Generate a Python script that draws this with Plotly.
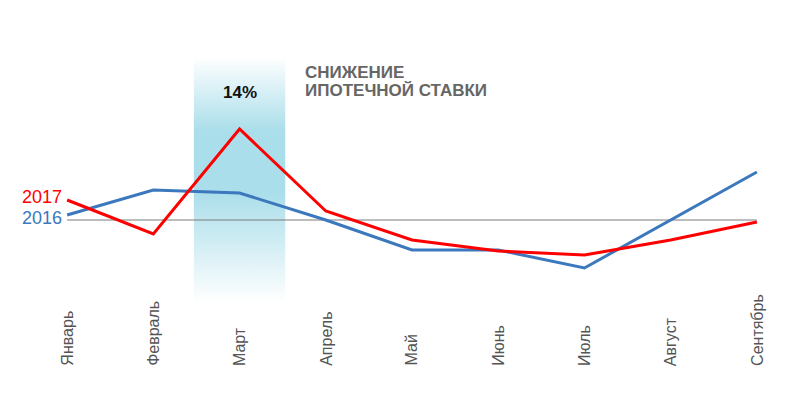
import plotly.graph_objects as go

months = ["Январь", "Февраль", "Март", "Апрель", "Май", "Июнь", "Июль", "Август", "Сентябрь"]
y2016 = [0.5, 3.0, 2.7, 0.0, -3.0, -3.0, -4.8, 0.0, 4.8]
y2017 = [2.0, -1.4, 9.1, 0.9, -2.0, -3.1, -3.5, -2.0, -0.2]
band_month = "Март"
band_label = "14%"
note_lines = ["СНИЖЕНИЕ", "ИПОТЕЧНОЙ СТАВКИ"]

FONT = "Liberation Sans, Arial, sans-serif"
BLUE = "#3b78bd"
RED = "#ff0000"

fig = go.Figure()

# shaded period around March (vertical gradient)
i = months.index(band_month)
bx0, bx1 = i - 0.53, i + 0.53
by0, by1 = -8.3, 16.3
fig.add_trace(go.Scatter(
    x=[bx0, bx1, bx1, bx0, bx0], y=[by0, by0, by1, by1, by0],
    mode="lines", line=dict(width=0), fill="toself",
    fillgradient=dict(type="vertical", start=by0, stop=by1,
                      colorscale=[[0, "rgba(255,255,255,1)"], [0.45, "#aadeea"],
                                  [0.7, "#aadeea"], [1, "rgba(255,255,255,1)"]]),
    hoverinfo="skip", showlegend=False))

# reference line
fig.add_trace(go.Scatter(x=[0, len(months) - 1], y=[0, 0], mode="lines",
                         line=dict(color="#7a7a7a", width=1),
                         hoverinfo="skip", showlegend=False))

xs = list(range(len(months)))
fig.add_trace(go.Scatter(x=xs, y=y2016, mode="lines", name="2016",
                         line=dict(color=BLUE, width=3), showlegend=False))
fig.add_trace(go.Scatter(x=xs, y=y2017, mode="lines", name="2017",
                         line=dict(color=RED, width=3), showlegend=False))

ann = []
ann.append(dict(x=0, y=y2017[0], text="2017", xanchor="right", yanchor="middle",
                xshift=-3, yshift=3, showarrow=False,
                font=dict(family=FONT, size=18, color=RED)))
ann.append(dict(x=0, y=y2016[0], text="2016", xanchor="right", yanchor="middle",
                xshift=-3, yshift=-3, showarrow=False,
                font=dict(family=FONT, size=18, color=BLUE)))
ann.append(dict(x=i, y=12.8, text="<b>" + band_label + "</b>", showarrow=False,
                font=dict(family=FONT, size=17, color="#111111")))
for j, line in enumerate(note_lines):
    ann.append(dict(x=i + 0.73, y=14.8 - 1.8 * j, text="<b>" + line + "</b>",
                    xanchor="left", yanchor="middle", showarrow=False,
                    font=dict(family=FONT, size=17, color="#666666")))
for k, m in enumerate(months):
    ann.append(dict(x=k, y=-0.257, yref="paper", text=m, textangle=-90,
                    xanchor="center", yanchor="bottom", showarrow=False,
                    font=dict(family=FONT, size=16, color="#555555")))

fig.update_layout(
    width=812, height=413,
    margin=dict(l=16, r=20, t=42, b=118),
    paper_bgcolor="white", plot_bgcolor="white",
    xaxis=dict(range=[-0.5, 8.5], showgrid=False, zeroline=False,
               showticklabels=False, showline=False),
    yaxis=dict(range=[-8.3, 17], showgrid=False, zeroline=False,
               showticklabels=False, showline=False),
    annotations=ann,
)

fig.write_html("out.html")
